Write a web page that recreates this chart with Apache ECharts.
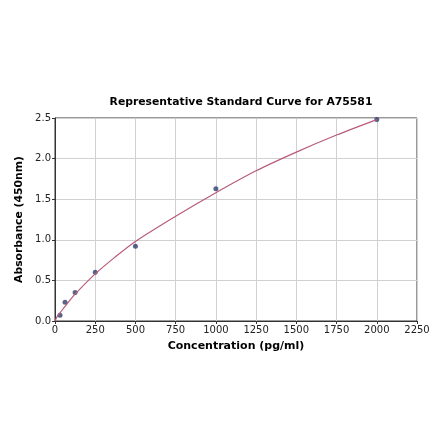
<!DOCTYPE html>
<html lang="en">
<head>
    <meta charset="utf-8">
    <title>Standard Curve</title>
    <script src="https://cdn.jsdelivr.net/npm/echarts@6/dist/echarts.min.js"></script>
</head>
<body style="margin:0;background:#fff;">
<div id="main" style="width:440px;height:441px;"></div>
<script type="text/javascript">
    // standard points
    var conc = [31.25, 62.5, 125, 250, 500, 1000, 2000];
    var absorb = [0.07, 0.23, 0.35, 0.60, 0.92, 1.63, 2.48];
    // fitted curve
    var curveX = [0, 15, 31.25, 62.5, 125, 250, 375, 500, 750, 1000, 1250, 1500, 1750, 2000];
    var curveY = [0.0, 0.06, 0.10, 0.18, 0.33, 0.58, 0.79, 0.98, 1.29, 1.58, 1.85, 2.08, 2.29, 2.48];

    var pts = conc.map(function (c, i) { return [c, absorb[i]]; });
    var curve = curveX.map(function (c, i) { return [c, curveY[i]]; });

    var chart = echarts.init(document.getElementById('main'));
    chart.setOption({
        backgroundColor: '#ffffff',
        animation: false,
        title: {
            text: 'Representative Standard Curve for A75581',
            left: 236,
            textAlign: 'center',
            top: 92,
            textStyle: {fontFamily: 'DejaVu Sans', fontSize: 10.8, fontWeight: 'bold', color: '#000'}
        },
        grid: {
            left: 55, right: 23, top: 118, bottom: 120,
            show: true, borderColor: '#333', borderWidth: 1
        },
        xAxis: {
            type: 'value',
            min: 0, max: 2250, interval: 250,
            name: 'Concentration (pg/ml)',
            nameLocation: 'middle',
            nameGap: 20,
            nameTextStyle: {fontFamily: 'DejaVu Sans', fontSize: 11, fontWeight: 'bold', color: '#000'},
            axisLine: {lineStyle: {color: '#333'}},
            axisTick: {length: 3, lineStyle: {color: '#333'}},
            axisLabel: {fontFamily: 'DejaVu Sans', fontSize: 10, color: '#222', margin: 4,
                formatter: function (v) { return String(v); }},
            splitLine: {lineStyle: {color: '#d0d0d0'}}
        },
        yAxis: {
            type: 'value',
            min: 0, max: 2.5, interval: 0.5,
            name: 'Absorbance (450nm)',
            nameLocation: 'middle',
            nameGap: 25,
            nameTextStyle: {fontFamily: 'DejaVu Sans', fontSize: 10.8, fontWeight: 'bold', color: '#000'},
            axisLine: {show: true, lineStyle: {color: '#333'}},
            axisTick: {show: true, length: 3, lineStyle: {color: '#333'}},
            axisLabel: {fontFamily: 'DejaVu Sans', fontSize: 10, color: '#222', margin: 4,
                formatter: function (v) { return v.toFixed(1); }},
            splitLine: {lineStyle: {color: '#d0d0d0'}}
        },
        series: [
            {
                type: 'line',
                data: curve,
                smooth: 0.3,
                symbol: 'none',
                lineStyle: {color: '#b85a7a', width: 1.2}
            },
            {
                type: 'scatter',
                data: pts,
                symbolSize: 5,
                itemStyle: {color: '#2c3e6b'}
            }
        ]
    });
</script>
</body>
</html>
